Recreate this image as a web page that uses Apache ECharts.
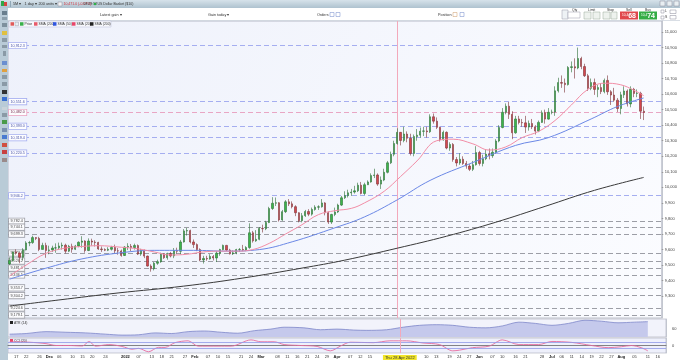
<!DOCTYPE html>
<html><head><meta charset="utf-8">
<script src="https://cdn.jsdelivr.net/npm/echarts@6/dist/echarts.min.js"></script>
<style>html,body{margin:0;padding:0;background:#fff}#c{width:680px;height:360px}</style>
</head><body><div id="c"></div>
<script>
// ---------- trading days (categories) ----------
const nov21Days = [15,16,17,18,19,22,23,24,25,26,29,30];
const dec21Days = [1,2,3,6,7,8,9,10,13,14,15,16,17,20,21,22,23,24,27,28,29,30,31];
const jan22Days = [3,4,5,6,7,10,11,12,13,14,17,18,19,20,21,24,25,26,27,28,31];
const feb22Days = [1,2,3,4,7,8,9,10,11,14,15,16,17,18,21,22,23,24,25,28];
const mar22Days = [1,2,3,4,7,8,9,10,11,14,15,16,17,18,21,22,23,24,25,28,29,30,31];
const apr22Days = [1,4,5,6,7,8,11,12,13,14,15,18,19,20,21,22,25,26,27,28,29];
const may22Days = [2,3,4,5,6,9,10,11,12,13,16,17,18,19,20,23,24,25,26,27,30,31];
const jun22Days = [1,2,3,6,7,8,9,10,13,14,15,16,17,20,21,22,23,24,27,28,29,30];
const jul22Days = [1,4,5,6,7,8,11,12,13,14,15,18,19,20,21,22,25,26,27,28,29];
const aug22Days = [1,2,3,4,5,8,9,10,11];
const futureDays = ['2022-08-12','2022-08-15','2022-08-16','2022-08-17','2022-08-18'];

// ---------- candles [open, close, low, high] ----------
const nov21 = [[9507,9530,9502,9548],[9530,9585,9524,9587],[9585,9578,9567,9602],[9578,9550,9512,9582],[9550,9598,9530,9609],[9598,9643,9595,9654],[9643,9645,9622,9656],[9645,9677,9637,9689],[9677,9672,9661,9680],[9672,9601,9590,9682],[9601,9627,9601,9644],[9627,9594,9547,9644]];
const dec21 = [[9594,9598,9570,9625],[9598,9610,9585,9625],[9610,9611,9580,9640],[9611,9623,9598,9645],[9623,9628,9600,9645],[9628,9590,9575,9638],[9590,9621,9584,9630],[9621,9602,9580,9638],[9602,9623,9597,9630],[9623,9647,9615,9653],[9647,9655,9612,9686],[9655,9594,9580,9660],[9594,9655,9590,9672],[9655,9648,9625,9670],[9648,9646,9620,9660],[9646,9604,9598,9650],[9604,9600,9585,9620],[9600,9596,9590,9608],[9596,9602,9590,9615],[9602,9614,9594,9624],[9614,9592,9577,9632],[9592,9591,9567,9610],[9591,9562,9554,9600]];
const jan22 = [[9562,9616,9559,9622],[9616,9621,9597,9641],[9621,9613,9590,9636],[9613,9626,9600,9638],[9626,9571,9565,9633],[9571,9594,9560,9605],[9594,9558,9545,9601],[9558,9494,9490,9561],[9494,9477,9458,9505],[9477,9512,9466,9520],[9512,9522,9502,9535],[9522,9570,9515,9580],[9570,9548,9540,9578],[9548,9574,9535,9580],[9574,9559,9550,9585],[9559,9594,9545,9610],[9594,9589,9575,9612],[9589,9649,9570,9662],[9649,9720,9645,9732],[9720,9722,9690,9739],[9722,9649,9640,9728]];
const feb22 = [[9649,9632,9610,9665],[9632,9600,9590,9640],[9600,9533,9525,9608],[9533,9543,9510,9560],[9543,9540,9528,9560],[9540,9556,9535,9570],[9556,9546,9530,9565],[9546,9577,9520,9590],[9577,9600,9560,9605],[9600,9627,9595,9632],[9627,9597,9590,9630],[9597,9573,9568,9605],[9573,9579,9565,9595],[9579,9600,9570,9605],[9600,9601,9585,9610],[9601,9598,9590,9630],[9598,9613,9590,9622],[9613,9708,9605,9769],[9708,9656,9645,9720],[9656,9666,9650,9725]];
const mar22 = [[9666,9736,9660,9745],[9736,9734,9710,9760],[9734,9774,9725,9785],[9774,9864,9770,9875],[9864,9898,9855,9937],[9898,9901,9880,9935],[9901,9791,9780,9905],[9791,9844,9785,9855],[9844,9907,9835,9918],[9907,9894,9880,9925],[9894,9876,9865,9910],[9876,9837,9815,9885],[9837,9786,9775,9840],[9786,9818,9775,9835],[9818,9845,9810,9855],[9845,9828,9815,9860],[9828,9858,9818,9870],[9858,9873,9850,9885],[9873,9875,9855,9885],[9875,9900,9870,9925],[9900,9837,9820,9905],[9837,9777,9765,9845],[9777,9826,9765,9830]];
const apr22 = [[9826,9842,9815,9870],[9842,9886,9835,9895],[9886,9933,9880,9945],[9933,9947,9925,9975],[9947,9965,9935,9985],[9965,9970,9945,9990],[9970,9978,9960,10010],[9978,10014,9970,10030],[10014,9961,9955,10035],[9961,10017,9950,10030],[10017,10035,10015,10045],[10035,10076,10030,10090],[10076,10080,10060,10120],[10080,10021,10010,10090],[10021,10047,9990,10070],[10047,10097,10040,10120],[10097,10158,10090,10170],[10158,10213,10150,10230],[10213,10282,10200,10300],[10282,10354,10275,10380],[10354,10302,10270,10355]];
const may22 = [[10302,10343,10290,10390],[10343,10316,10290,10360],[10316,10218,10205,10345],[10218,10327,10200,10340],[10327,10336,10300,10375],[10336,10361,10320,10385],[10361,10363,10330,10390],[10363,10358,10320,10390],[10358,10454,10350,10470],[10454,10426,10410,10475],[10426,10386,10375,10450],[10386,10306,10295,10390],[10306,10354,10300,10365],[10354,10253,10245,10360],[10253,10276,10235,10290],[10276,10179,10165,10285],[10179,10157,10135,10195],[10157,10181,10145,10220],[10181,10154,10145,10200],[10154,10137,10120,10170],[10137,10116,10105,10150],[10116,10146,10105,10170]];
const jun22 = [[10146,10224,10140,10265],[10224,10154,10140,10235],[10154,10184,10135,10210],[10184,10214,10175,10240],[10214,10204,10180,10250],[10204,10226,10190,10250],[10226,10298,10215,10310],[10298,10385,10290,10400],[10385,10483,10380,10510],[10483,10522,10470,10540],[10522,10470,10440,10549],[10470,10351,10310,10490],[10351,10440,10345,10460],[10440,10417,10405,10460],[10417,10415,10390,10440],[10415,10388,10350,10460],[10388,10411,10365,10430],[10411,10390,10375,10440],[10390,10362,10340,10400],[10362,10418,10355,10430],[10418,10480,10415,10495],[10480,10439,10410,10500]];
const jul22 = [[10439,10483,10435,10510],[10483,10484,10470,10500],[10484,10621,10460,10650],[10621,10674,10610,10705],[10674,10670,10640,10720],[10670,10661,10610,10700],[10661,10771,10655,10780],[10771,10776,10740,10810],[10776,10768,10700,10830],[10768,10829,10760,10899],[10829,10777,10760,10840],[10777,10718,10710,10795],[10718,10637,10620,10730],[10637,10674,10625,10700],[10674,10630,10595,10700],[10630,10642,10580,10660],[10642,10616,10600,10670],[10616,10688,10605,10700],[10688,10615,10595,10720],[10615,10594,10530,10625],[10594,10561,10550,10640]];
const aug22 = [[10561,10507,10485,10575],[10507,10595,10470,10615],[10595,10620,10575,10650],[10620,10537,10520,10630],[10537,10631,10515,10650],[10631,10604,10580,10640],[10604,10605,10580,10630],[10605,10490,10440,10615],[10490,10482,10433,10520]];

// ---------- moving averages ----------
const sma20 = [['2021-11-15',9430],['2021-11-22',9500],['2021-11-30',9575],['2021-12-08',9610],['2021-12-15',9620],['2021-12-22',9625],['2021-12-31',9615],['2022-01-07',9605],['2022-01-14',9585],['2022-01-21',9565],['2022-01-28',9570],['2022-02-04',9585],['2022-02-11',9590],['2022-02-18',9590],['2022-02-25',9600],['2022-03-04',9640],['2022-03-11',9700],['2022-03-18',9760],['2022-03-25',9825],['2022-04-01',9850],['2022-04-08',9865],['2022-04-14',9900],['2022-04-22',9975],['2022-04-29',10070],['2022-05-06',10170],['2022-05-16',10300],['2022-05-23',10310],['2022-05-31',10280],['2022-06-07',10240],['2022-06-14',10260],['2022-06-21',10320],['2022-06-28',10360],['2022-07-05',10430],['2022-07-12',10530],['2022-07-19',10630],['2022-07-26',10670],['2022-08-02',10660],['2022-08-08',10625],['2022-08-11',10590]];
const sma50 = [['2021-11-15',9410],['2021-11-30',9480],['2021-12-15',9540],['2021-12-31',9580],['2022-01-14',9595],['2022-02-01',9595],['2022-02-15',9590],['2022-03-01',9600],['2022-03-15',9650],['2022-04-01',9740],['2022-04-14',9810],['2022-04-28',9920],['2022-05-12',10045],['2022-05-31',10160],['2022-06-17',10270],['2022-07-01',10320],['2022-07-20',10440],['2022-08-01',10520],['2022-08-11',10575]];
const sma200 = [['2021-11-15',9237],['2021-12-06',9276],['2021-12-30',9321],['2022-01-27',9365],['2022-02-22',9417],['2022-03-18',9481],['2022-04-06',9532],['2022-04-28',9609],['2022-05-19',9686],['2022-06-09',9776],['2022-06-30',9878],['2022-07-21',9981],['2022-08-11',10064]];

// ---------- indicators ----------
const atr14 = [['2021-11-15',44],['2021-11-22',46],['2021-11-30',52],['2021-12-08',50],['2021-12-16',48],['2021-12-24',44],['2021-12-31',41],['2022-01-07',42],['2022-01-14',48],['2022-01-21',46],['2022-01-28',52],['2022-02-04',54],['2022-02-11',50],['2022-02-18',47],['2022-02-25',55],['2022-03-04',60],['2022-03-10',66],['2022-03-18',64],['2022-03-25',58],['2022-04-01',60],['2022-04-08',57],['2022-04-14',56],['2022-04-22',58],['2022-04-29',66],['2022-05-06',72],['2022-05-13',74],['2022-05-20',72],['2022-05-27',66],['2022-06-03',64],['2022-06-10',70],['2022-06-17',82],['2022-06-24',78],['2022-07-01',72],['2022-07-08',78],['2022-07-15',88],['2022-07-22',85],['2022-07-29',80],['2022-08-05',82],['2022-08-11',83.596]];
const cci20 = [['2021-11-15',130],['2021-11-23',115],['2021-11-30',66],['2021-12-03',0],['2021-12-09',0],['2021-12-15',-17],['2021-12-17',140],['2021-12-21',-23],['2021-12-27',33],['2021-12-31',-33],['2022-01-05',-132],['2022-01-07',-100],['2022-01-12',-221],['2022-01-17',-66],['2022-01-19',-66],['2022-01-24',100],['2022-01-28',165],['2022-02-02',-23],['2022-02-10',-23],['2022-02-16',-23],['2022-02-24',198],['2022-03-01',132],['2022-03-07',132],['2022-03-10',33],['2022-03-17',0],['2022-03-24',-33],['2022-03-30',-188],['2022-04-04',-23],['2022-04-07',115],['2022-04-18',100],['2022-04-25',165],['2022-05-02',165],['2022-05-09',89],['2022-05-16',33],['2022-05-20',-188],['2022-05-24',-165],['2022-05-30',-76],['2022-06-06',-23],['2022-06-10',198],['2022-06-17',33],['2022-06-27',33],['2022-07-01',142],['2022-07-11',109],['2022-07-19',0],['2022-07-26',-76],['2022-08-01',-43],['2022-08-04',0],['2022-08-09',-76],['2022-08-11',-188]];

// ---------- horizontal levels and ticks ----------
const levelsBlue = [10912.3, 10551.6, 10393.0, 10319.4, 10220.5, 9946.2];
const levelsGray = [9782.4, 9744.1, 9699.3, 9577.8, 9526.2, 9481.0, 9436.5, 9353.7, 9304.2, 9224.6, 9179.1];
const priceTicks = [9300,9400,9500,9600,9700,9800,9900,10000,10100,10200,10300,10400,10500,10600,10700,10800,10900,11000];
const greenQuote = 10449.8;
const crossDate = '2022-04-28';
const xTicks = [['2021-11-17','17'],['2021-11-22','22'],['2021-11-26','26'],['2021-12-01','Dec'],['2021-12-06','06'],['2021-12-10','10'],['2021-12-15','15'],['2021-12-20','20'],['2021-12-24','24'],['2022-01-03','2022'],['2022-01-07','07'],['2022-01-13','13'],['2022-01-18','18'],['2022-01-21','21'],['2022-01-27','27'],['2022-02-01','Feb'],['2022-02-07','07'],['2022-02-10','10'],['2022-02-15','15'],['2022-02-21','21'],['2022-02-24','24'],['2022-03-01','Mar'],['2022-03-08','08'],['2022-03-11','11'],['2022-03-16','16'],['2022-03-21','21'],['2022-03-24','24'],['2022-03-29','29'],['2022-04-01','Apr'],['2022-04-07','07'],['2022-04-12','12'],['2022-04-15','15'],['2022-04-28','Thu 28 Apr 2022'],['2022-05-10','10'],['2022-05-13','13'],['2022-05-19','19'],['2022-05-24','24'],['2022-05-27','27'],['2022-06-01','Jun'],['2022-06-07','07'],['2022-06-10','10'],['2022-06-16','16'],['2022-06-21','21'],['2022-06-28','28'],['2022-07-01','Jul'],['2022-07-06','06'],['2022-07-11','11'],['2022-07-14','14'],['2022-07-19','19'],['2022-07-22','22'],['2022-07-27','27'],['2022-08-01','Aug'],['2022-08-05','05'],['2022-08-11','11'],['2022-08-16','16']];

// ---------- build ----------
const pad = n => (n < 10 ? '0' : '') + n;
const monthDays = [['2021-11',nov21Days],['2021-12',dec21Days],['2022-01',jan22Days],['2022-02',feb22Days],['2022-03',mar22Days],['2022-04',apr22Days],['2022-05',may22Days],['2022-06',jun22Days],['2022-07',jul22Days],['2022-08',aug22Days]];
const dates = [];
monthDays.forEach(([m, ds]) => ds.forEach(d => dates.push(m + '-' + pad(d))));
const categories = dates.concat(futureDays);
const candles = [].concat(nov21, dec21, jan22, feb22, mar22, apr22, may22, jun22, jul22, aug22);
const tickMap = new Map(xTicks);
const lastClose = candles[candles.length - 1][1];
const fmt1 = v => v.toLocaleString('en-US', {minimumFractionDigits: 1, maximumFractionDigits: 1});
const fmt3 = v => v.toLocaleString('en-US', {minimumFractionDigits: 3, maximumFractionDigits: 3});
const FONT = 'Liberation Sans, Arial, sans-serif';
const FS = 4;      // axis text
const LFS = 3.7;   // level labels
const HFS = 3.8;   // header text

function levelItem(v, color, textColor) {
  return {yAxis: v,
    lineStyle: {color: color, type: [5, 3], width: 1.2, opacity: 1},
    label: {show: true, position: 'insideStart', distance: 1, formatter: fmt1(v), fontSize: LFS, fontFamily: FONT,
      color: textColor, backgroundColor: '#fdfdff', borderColor: color, borderWidth: 0.8, padding: [1, 1.5, 0.5, 1.5]}};
}
function endBox(v, bg, fg, text) {
  return {yAxis: v, lineStyle: {opacity: 0},
    label: {show: true, position: 'end', distance: 1, formatter: text, fontSize: LFS, fontFamily: FONT,
      color: fg, backgroundColor: bg, padding: [1, 1.5, 0.5, 1.5]}};
}
const crossLine = {xAxis: crossDate, lineStyle: {color: '#f3a9bb', type: 'solid', width: 1}, label: {show: false}};

const chart = echarts.init(document.getElementById('c'), null, {renderer: 'canvas'});
const hdrText = (x, y, t, opt) => ({type: 'text', x: x, y: y, style: Object.assign({text: t, fontSize: HFS, fontFamily: FONT, fill: '#333', verticalAlign: 'middle'}, opt || {})});
const sq = (x, y, w, h, c, s) => ({type: 'rect', shape: {x: x, y: y, width: w, height: h}, style: {fill: c, stroke: s || null, lineWidth: 0.5}});

const graphics = [
  {type: 'rect', shape: {x: 0, y: 0, width: 680, height: 8}, style: {fill: new echarts.graphic.LinearGradient(0, 0, 0, 1, [{offset: 0, color: '#d6e2ea'}, {offset: 1, color: '#aec2cf'}])}},
  sq(0, 8, 680, 12, '#ffffff'),
  {type: 'line', shape: {x1: 0, y1: 20.5, x2: 680, y2: 20.5}, style: {stroke: '#cfd6de', lineWidth: 0.8}},
  sq(0, 8, 8, 352, '#b9cbd7'),
  sq(1, 1, 3, 5, '#2fa84a'), sq(4, 2, 3, 4, '#d6443f'),
  sq(10, 1, 1, 6, '#8fa7b6'),
  hdrText(13, 4, '5M ▾'), hdrText(24.5, 4, '1 day ▾'), hdrText(38.5, 4, '200 units ▾'),
  sq(58, 2, 4, 4, '#f4f4f4', '#889'),
  hdrText(63.5, 4, '10,471.0 (-0.57%)', {fill: '#d2303a', fontSize: 3.5}), hdrText(83.5, 4, '08:29:52', {fontSize: 3.5}),
  {type: 'circle', shape: {cx: 95, cy: 4, r: 1.3}, style: {fill: '#2fb04a'}},
  hdrText(97.5, 4, 'US Dollar Basket ($10)', {fontSize: 3.5}),
  sq(660, 1, 5, 5, '#e8eef2', '#889'), sq(667, 1, 5, 5, '#e8eef2', '#889'), sq(674, 1, 5, 5, '#e8eef2', '#889'),
  hdrText(100, 14.5, 'Latest gain ▾'), hdrText(208, 14.5, 'Gain today ▾'), hdrText(317, 14.5, 'Orders'),
  sq(330, 12.5, 4, 4, '#fff', '#6f86c8'), sq(336, 12.5, 4, 4, '#fff', '#6f86c8'),
  hdrText(438, 14.5, 'Position'), sq(453, 12.5, 4, 4, '#fff', '#c96'), sq(460, 12.5, 4, 4, '#fff', '#6f86c8'),
  sq(562, 10, 6, 9, '#eef2f5', '#99a'),
  hdrText(572, 9.8, 'Qty', {fontSize: 3.4}), sq(568, 12, 12, 6, '#fff', '#99a'),
  hdrText(588, 9.8, 'Limit', {fontSize: 3.4}), sq(584, 12, 7, 7, '#eef2ee', '#9a9'), sq(593, 12, 7, 7, '#eef2ee', '#9a9'),
  hdrText(607, 9.8, 'Stop', {fontSize: 3.4}), sq(603, 12, 7, 7, '#eef2ee', '#9a9'), sq(611, 12, 6, 7, '#eef2ee', '#9a9'),
  hdrText(626, 9.8, 'Sell', {fontSize: 3.4}), sq(620, 11.5, 18, 8, '#e0474c'),
  {type: 'text', x: 629, y: 15.6, style: {text: '{s|10,4}{b|68}', rich: {s: {fontSize: 3.2, fill: '#fff', fontFamily: FONT}, b: {fontSize: 7, fill: '#fff', fontWeight: 'bold', fontFamily: FONT}}, align: 'center', verticalAlign: 'middle'}},
  hdrText(645, 9.8, 'Buy', {fontSize: 3.4}), sq(639, 11.5, 18, 8, '#34ad45'),
  {type: 'text', x: 648, y: 15.6, style: {text: '{s|10,4}{b|74}', rich: {s: {fontSize: 3.2, fill: '#fff', fontFamily: FONT}, b: {fontSize: 7, fill: '#fff', fontWeight: 'bold', fontFamily: FONT}}, align: 'center', verticalAlign: 'middle'}},
  sq(661, 10, 3, 3, '#fff', '#889'), hdrText(665, 11.5, 'L', {fontSize: 3.4}), sq(661, 16, 3, 3, '#fff', '#889'), hdrText(665, 17.5, 'S', {fontSize: 3.4}),
  sq(670, 10, 6, 3.5, '#fff', '#889'), sq(670, 15.5, 6, 3.5, '#fff', '#889'),
  // legend strip
  sq(9, 21, 102, 6, '#f7f8fc', '#b8bed8'),
  sq(10.5, 22.2, 3.5, 3.5, '#e05a5a'), sq(15, 22.2, 3.5, 3.5, '#e9eef2', '#99a'),
  sq(20, 22.2, 3.5, 3.5, '#38b04a'), hdrText(24.5, 24, 'Price', {fontSize: 3.4}),
  sq(34, 22.2, 3.5, 3.5, '#e85a6a'), hdrText(38.5, 24, 'SMA (200)', {fontSize: 3.4}),
  sq(53, 22.2, 3.5, 3.5, '#2f55e0'), hdrText(57.5, 24, 'SMA (50)', {fontSize: 3.4}),
  sq(72, 22.2, 3.5, 3.5, '#e8456a'), hdrText(76.5, 24, 'SMA (20)', {fontSize: 3.4}),
  sq(90, 22.2, 3.5, 3.5, '#222'), hdrText(94.5, 24, 'SMA (200)', {fontSize: 3.4}),
  // indicator labels
  sq(10, 321, 3, 3, '#222'), hdrText(14, 322.7, 'ATR (14)', {fontSize: 3.4}),
  sq(10, 339, 3, 3, '#e8456a'), hdrText(14, 340.7, 'CCI (20)', {fontSize: 3.4}),
  // left toolbar icons
  sq(2, 11, 5, 4, '#6a7f8e'), sq(2, 17, 5, 3, '#8da0ad'), sq(2, 23, 5, 4, '#7d909d'),
  sq(2, 31, 5, 4, '#e0c040'), sq(2, 38, 5, 4, '#8a9aa6'), sq(2, 45, 5, 3, '#8a9aa6'), sq(3, 51, 3, 5, '#8a9aa6'),
  sq(2, 61, 5, 4, '#6a8fd0'), sq(2, 69, 5, 3, '#e0a040'), sq(2, 75, 5, 4, '#8a9aa6'), sq(2, 82, 5, 4, '#8a9aa6'),
  sq(2, 90, 5, 4, '#333'), sq(2, 97, 5, 4, '#3a6fd0'), sq(2, 107, 5, 3, '#c9d3da'), sq(2, 113, 5, 4, '#8a9aa6'),
  sq(2, 120, 5, 4, '#4a9a4a'), sq(2, 128, 5, 4, '#7a8fb0'), sq(2, 135, 5, 4, '#4a7ad0'), sq(2, 143, 5, 4, '#d05040'),
  sq(2, 150, 5, 4, '#c84040'), sq(2, 158, 5, 4, '#9a8a8a')
];

const option = {
  animation: false,
  backgroundColor: '#ffffff',
  textStyle: {fontFamily: FONT},
  graphic: {elements: graphics},
  grid: [
    {left: 8, width: 658, top: 21, height: 297, show: true, borderColor: '#a9adbb', borderWidth: 0.8,
      backgroundColor: new echarts.graphic.LinearGradient(0, 0, 1, 1, [{offset: 0, color: '#eef1fb'}, {offset: 1, color: '#fbfcff'}])},
    {left: 8, width: 658, top: 319, height: 18, show: true, borderColor: '#a9adbb', borderWidth: 0.6, backgroundColor: '#f2f3fb'},
    {left: 8, width: 658, top: 338, height: 16, show: true, borderColor: '#a9adbb', borderWidth: 0.6, backgroundColor: '#eef0fb'}
  ],
  xAxis: [0, 1, 2].map(i => ({
    type: 'category', gridIndex: i, data: categories, boundaryGap: true,
    axisLine: {show: i === 2, lineStyle: {color: '#666', width: 0.8}}, axisTick: {show: false}, splitLine: {show: false},
    axisLabel: i === 2 ? {
      show: true, interval: (idx, val) => tickMap.has(val), margin: 2, fontSize: FS, color: '#333', fontFamily: FONT,
      formatter: val => {
        const t = tickMap.get(val) || '';
        if (val === crossDate) return '{hl|' + t + '}';
        if (/^[A-Z]|^2022/.test(t)) return '{b|' + t + '}';
        return t;
      },
      rich: {hl: {backgroundColor: '#f1e52a', color: '#333', padding: [1, 2, 0, 2], fontSize: FS}, b: {fontWeight: 'bold', fontSize: FS, color: '#222'}}
    } : {show: false}
  })),
  yAxis: [
    {type: 'value', gridIndex: 0, position: 'right', min: 9160, max: 11070, scale: true,
      splitLine: {show: false}, axisLine: {show: true, lineStyle: {color: '#b8bcc8', width: 0.8}},
      axisTick: {show: true, customValues: priceTicks, length: 1.5, lineStyle: {color: '#999'}},
      axisLabel: {customValues: priceTicks, margin: 3, fontSize: FS, color: '#444', fontFamily: FONT, formatter: v => v.toLocaleString('en-US')}},
    {type: 'value', gridIndex: 1, position: 'right', min: 35, max: 92,
      splitLine: {show: false}, axisLine: {show: true, lineStyle: {color: '#b8bcc8', width: 0.8}}, axisTick: {show: false},
      axisLabel: {customValues: [60], margin: 6, fontSize: FS, color: '#444', fontFamily: FONT}},
    {type: 'value', gridIndex: 2, position: 'right', min: -264, max: 264,
      splitLine: {show: false}, axisLine: {show: true, lineStyle: {color: '#b8bcc8', width: 0.8}}, axisTick: {show: false},
      axisLabel: {customValues: [100, 0], margin: 6, fontSize: FS, color: '#444', fontFamily: FONT}}
  ],
  series: [
    {type: 'candlestick', name: 'Price', xAxisIndex: 0, yAxisIndex: 0, data: candles, barMaxWidth: 2.4, barMinWidth: 1.8, z: 3,
      itemStyle: {color: '#3bb54a', color0: '#d4474e', borderColor: '#2e6f35', borderColor0: '#7c3236', borderWidth: 0.6},
      markLine: {silent: true, symbol: ['none', 'none'], animation: false, z: 1,
        data: levelsBlue.map(v => levelItem(v, '#a5aef0', '#4a55a8'))
          .concat(levelsGray.map(v => levelItem(v, '#9c9ea6', '#444')))
          .concat([levelItem(lastClose, '#e9a6c4', '#7a3050'), crossLine,
            endBox(lastClose, '#f4ea2e', '#333', fmt1(lastClose)), endBox(greenQuote, '#8fd88a', '#1e4a1e', fmt1(greenQuote))])}},
    {type: 'line', name: 'SMA (200)', xAxisIndex: 0, yAxisIndex: 0, data: sma200, smooth: 0.4, showSymbol: false, z: 4,
      lineStyle: {color: '#3a3a3a', width: 1},
      markLine: {silent: true, symbol: ['none', 'none'], data: [endBox(sma200[sma200.length - 1][1], '#c9cbd6', '#333', fmt1(sma200[sma200.length - 1][1]))]}},
    {type: 'line', name: 'SMA (50)', xAxisIndex: 0, yAxisIndex: 0, data: sma50, smooth: 0.4, showSymbol: false, z: 4,
      lineStyle: {color: '#6b88e6', width: 1},
      markLine: {silent: true, symbol: ['none', 'none'], data: [endBox(sma50[sma50.length - 1][1], '#aab8f2', '#223', fmt1(sma50[sma50.length - 1][1]))]}},
    {type: 'line', name: 'SMA (20)', xAxisIndex: 0, yAxisIndex: 0, data: sma20, smooth: 0.4, showSymbol: false, z: 4,
      lineStyle: {color: '#f28da6', width: 1},
      markLine: {silent: true, symbol: ['none', 'none'], data: [endBox(sma20[sma20.length - 1][1], '#f6b9c9', '#503', fmt1(sma20[sma20.length - 1][1]))]}},
    {type: 'line', name: 'ATR (14)', xAxisIndex: 1, yAxisIndex: 1, data: atr14, smooth: 0.3, showSymbol: false,
      lineStyle: {color: '#7d86c9', width: 0.8}, areaStyle: {color: '#c5c9ec', opacity: 1},
      markLine: {silent: true, symbol: ['none', 'none'], data: [crossLine, endBox(atr14[atr14.length - 1][1], '#d0d3f2', '#223', fmt3(atr14[atr14.length - 1][1]))]}},
    {type: 'line', name: 'CCI (20)', xAxisIndex: 2, yAxisIndex: 2, data: cci20, smooth: 0.3, showSymbol: false,
      lineStyle: {color: '#e66b9e', width: 0.9},
      markLine: {silent: true, symbol: ['none', 'none'], data: [
        {yAxis: 100, lineStyle: {color: '#8f99e8', type: 'solid', width: 0.8}, label: {show: false}},
        {yAxis: -100, lineStyle: {color: '#8f99e8', type: 'solid', width: 0.8}, label: {show: false}},
        crossLine,
        endBox(cci20[cci20.length - 1][1], '#f7c3d6', '#a01a4a', fmt1(cci20[cci20.length - 1][1]))]}}
  ]
};
chart.setOption(option);
</script>
</body></html>
